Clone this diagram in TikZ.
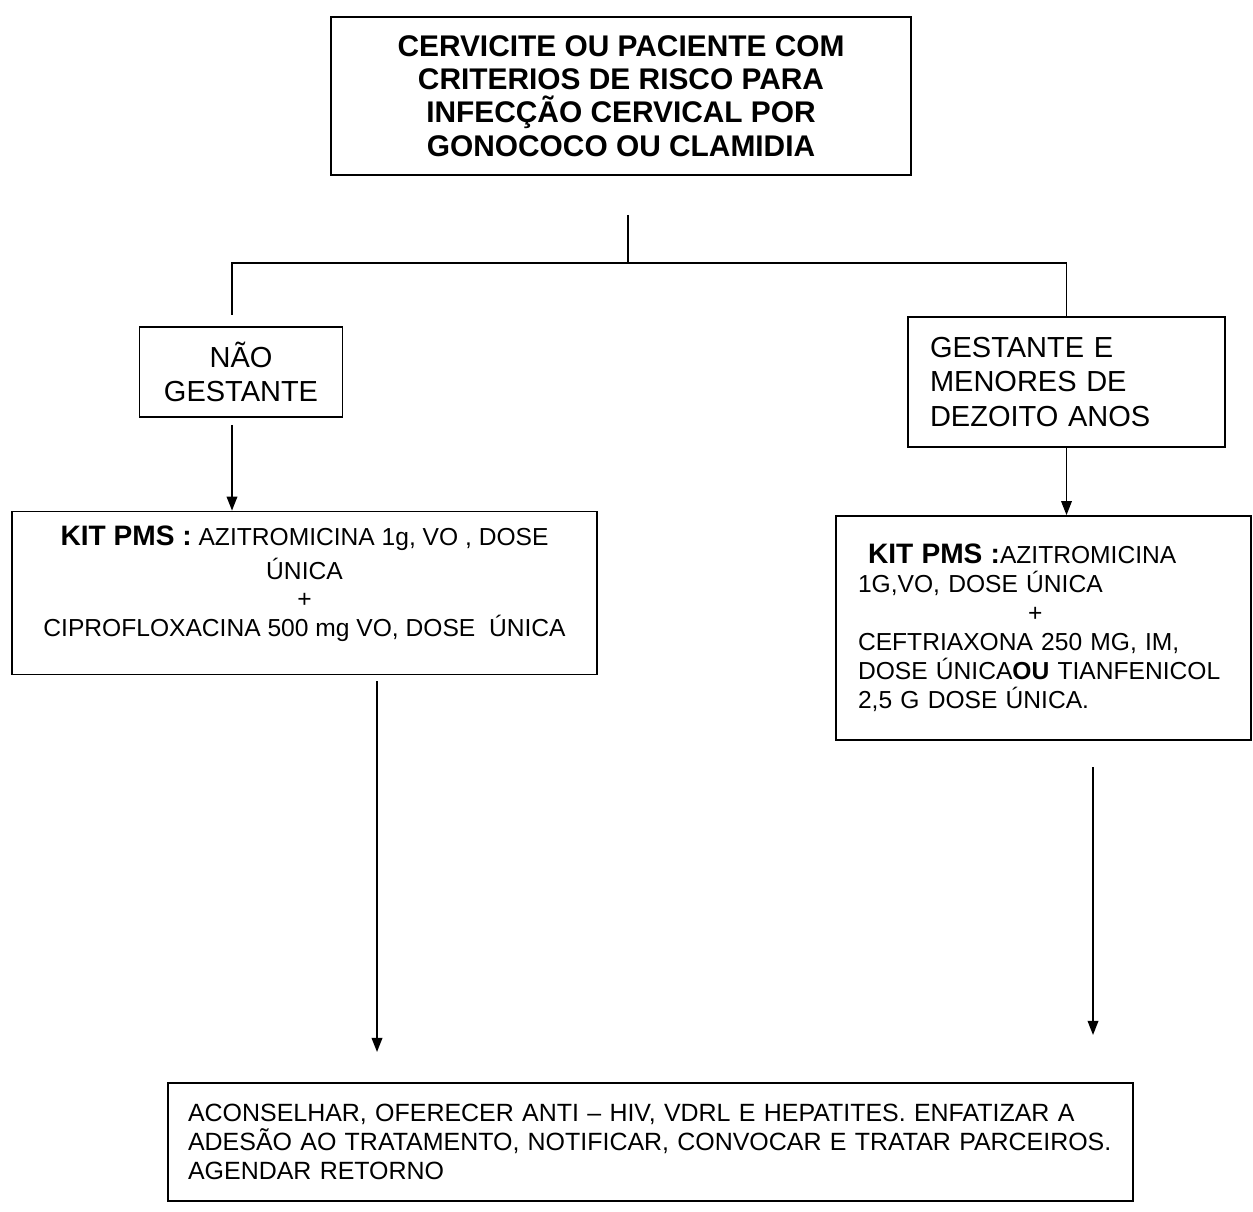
\documentclass[tikz,border=0pt]{standalone}
\usepackage{fontspec}
\setmainfont{Liberation Sans}
\usetikzlibrary{arrows.meta}
\begin{document}
\begin{tikzpicture}[x=0.02cm,y=-0.02cm,
  box/.style={draw,line width=1pt,inner sep=0pt},
  link/.style={line width=1pt},
  arr/.style={line width=1pt,-{Triangle[length=8pt,width=6pt]}},
  bigtxt/.style={font=\bfseries\fontsize{17}{19}\selectfont},
  midtxt/.style={font=\fontsize{16.5}{19.5}\selectfont},
  kittxt/.style={font=\fontsize{14}{16.5}\selectfont},
  endtxt/.style={font=\fontsize{14.2}{16.5}\selectfont}]
\useasboundingbox (0,0) rectangle (1253,1212);

% top question
\node[box,bigtxt,align=center,minimum width=11.6cm,minimum height=3.16cm] (top) at (621,96)
  {CERVICITE OU PACIENTE COM\\CRITERIOS DE RISCO PARA\\INFECÇÃO CERVICAL POR\\GONOCOCO OU CLAMIDIA};

% the two patient groups
\node[box,midtxt,align=center,minimum width=4.06cm,minimum height=1.8cm] (ngest) at (241,372)
  {NÃO\\GESTANTE};
\node[box,midtxt,align=left,text width=5.46cm,inner xsep=0.44cm,minimum height=2.6cm] (gest) at (1066.5,382)
  {GESTANTE E\\MENORES DE\\DEZOITO ANOS};

% treatment kits
\node[box,minimum width=11.7cm,minimum height=3.26cm] (kitL) at (304.5,593) {};
\node[kittxt,align=center,inner sep=0pt] (kitLtext) at (304.5,584)
  {{\bfseries\fontsize{16}{16.5}\selectfont KIT PMS :} AZITROMICINA 1g, VO , DOSE\\[3pt]ÚNICA\\[-0.5pt]+\\CIPROFLOXACINA 500 mg VO, DOSE\ \ ÚNICA};
\node[box,kittxt,align=left,text width=7.42cm,inner xsep=0.44cm,minimum height=4.48cm] (kitR) at (1043.5,628)
  {\hspace*{0.2cm}{\bfseries\fontsize{16}{16.5}\selectfont KIT PMS :}AZITROMICINA\\1G,VO, DOSE ÚNICA\\\hspace*{3.4cm}+\\CEFTRIAXONA 250 MG, IM,\\DOSE ÚNICA\textbf{OU} TIANFENICOL\\2,5 G DOSE ÚNICA.\\[14pt]};

% final guidance
\node[box,endtxt,align=left,text width=18.5cm,inner xsep=0.4cm,minimum height=2.36cm] (fin) at (650.5,1142)
  {ACONSELHAR, OFERECER ANTI -- HIV, VDRL E HEPATITES. ENFATIZAR A\\ADESÃO AO TRATAMENTO, NOTIFICAR, CONVOCAR E TRATAR PARCEIROS.\\AGENDAR RETORNO\\[10pt]};

% branching lines
\coordinate (stem) at (628,215);
\coordinate (split) at (628,263);
\coordinate (lcorner) at (232,263);
\coordinate (lend) at (232,315);
\draw[link] (stem) -- (split);
\draw[link] (lend) -- (lcorner) -- (split) -- (split -| gest.north) -- (gest.north);

% arrows to the kits
\coordinate (lstart) at (232,425);
\draw[arr] (lstart) -- (lstart |- kitL.north);
\draw[arr] (gest.south) -- (gest.south |- kitR.north);

% arrows to the final guidance
\coordinate (la) at (377,681);
\coordinate (lb) at (377,1052);
\coordinate (ra) at (1093,767);
\coordinate (rb) at (1093,1035);
\draw[arr] (la) -- (lb);
\draw[arr] (ra) -- (rb);
\end{tikzpicture}
\end{document}
